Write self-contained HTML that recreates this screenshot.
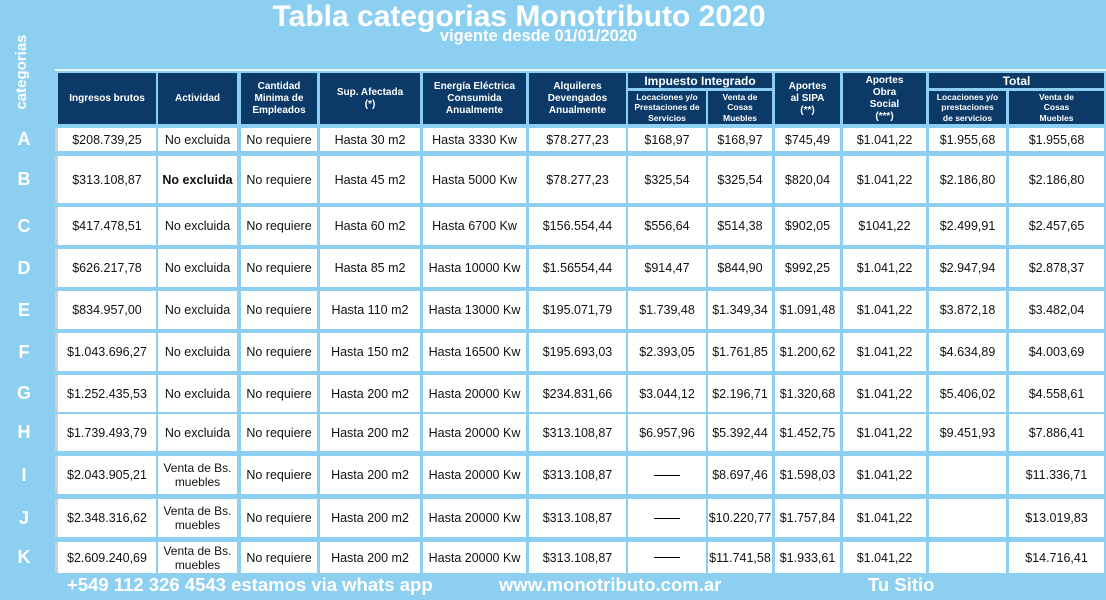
<!DOCTYPE html>
<html><head><meta charset="utf-8"><style>
body{margin:0;width:1106px;height:600px;background:#8ccff1;position:relative;overflow:hidden;font-family:"Liberation Sans",sans-serif}
.a{position:absolute;box-sizing:border-box}
.h{background:#0b3968;color:#fff;font-weight:bold;font-size:10px;line-height:12px;display:flex;align-items:center;justify-content:center;text-align:center}
.c{background:#fff;color:#111;font-size:12.5px;display:flex;align-items:center;justify-content:center;text-align:center;line-height:14px}
.l{color:#fff;font-weight:bold;font-size:18px;width:40px;text-align:center;left:4px}
.f{color:#fff;font-weight:bold;font-size:18.5px;top:574px}
</style></head><body>
<div class="a" style="left:0;width:1038px;top:0;text-align:center;color:#fff;font-weight:bold;font-size:30px;line-height:33px">Tabla categorias Monotributo 2020</div>
<div class="a" style="left:0;width:1077px;top:27px;text-align:center;color:#fff;font-weight:bold;font-size:16.5px;line-height:18px">vigente desde 01/01/2020</div>
<div class="a" style="top:52px;color:#fff;font-weight:bold;font-size:15px;transform:rotate(-90deg);transform-origin:center;text-align:center;white-space:nowrap;line-height:40px;height:40px;width:80px;left:-18px">categorias</div>
<div class="a" style="left:55px;top:69px;width:1051px;height:2px;background:#e8f6fd"></div>
<div id="t"></div>
<div class="a f" style="left:67px">+549 112 326 4543 estamos via whats app</div>
<div class="a f" style="left:499px">www.monotributo.com.ar</div>
<div class="a f" style="left:868px">Tu Sitio</div>
<script>
const cols=[[58,98],[158,79],[241,76],[320,100],[423,103],[529,97],[628,78],[708,64],[775,65],[843,83],[929,77],[1009,95]];
const rowsY=[[128,23],[156,47],[207,38],[249,38],[291,38],[333,38],[375,37],[414,37],[456,38],[499,38],[542,31]];
const letters=["A","B","C","D","E","F","G","H","I","J","K"];
const data=[
["$208.739,25","No excluida","No requiere","Hasta 30 m2","Hasta 3330 Kw","$78.277,23","$168,97","$168,97","$745,49","$1.041,22","$1.955,68","$1.955,68"],
["$313.108,87","<b>No excluida</b>","No requiere","Hasta 45 m2","Hasta 5000 Kw","$78.277,23","$325,54","$325,54","$820,04","$1.041,22","$2.186,80","$2.186,80"],
["$417.478,51","No excluida","No requiere","Hasta 60 m2","Hasta 6700 Kw","$156.554,44","$556,64","$514,38","$902,05","$1041,22","$2.499,91","$2.457,65"],
["$626.217,78","No excluida","No requiere","Hasta 85 m2","Hasta 10000 Kw","$1.56554,44","$914,47","$844,90","$992,25","$1.041,22","$2.947,94","$2.878,37"],
["$834.957,00","No excluida","No requiere","Hasta 110 m2","Hasta 13000 Kw","$195.071,79","$1.739,48","$1.349,34","$1.091,48","$1.041,22","$3.872,18","$3.482,04"],
["$1.043.696,27","No excluida","No requiere","Hasta 150 m2","Hasta 16500 Kw","$195.693,03","$2.393,05","$1.761,85","$1.200,62","$1.041,22","$4.634,89","$4.003,69"],
["$1.252.435,53","No excluida","No requiere","Hasta 200 m2","Hasta 20000 Kw","$234.831,66","$3.044,12","$2.196,71","$1.320,68","$1.041,22","$5.406,02","$4.558,61"],
["$1.739.493,79","No excluida","No requiere","Hasta 200 m2","Hasta 20000 Kw","$313.108,87","$6.957,96","$5.392,44","$1.452,75","$1.041,22","$9.451,93","$7.886,41"],
["$2.043.905,21","Venta de Bs.<br>muebles","No requiere","Hasta 200 m2","Hasta 20000 Kw","$313.108,87","DASH","$8.697,46","$1.598,03","$1.041,22","","$11.336,71"],
["$2.348.316,62","Venta de Bs.<br>muebles","No requiere","Hasta 200 m2","Hasta 20000 Kw","$313.108,87","DASH","$10.220,77","$1.757,84","$1.041,22","","$13.019,83"],
["$2.609.240,69","Venta de Bs.<br>muebles","No requiere","Hasta 200 m2","Hasta 20000 Kw","$313.108,87","DASH","$11.741,58","$1.933,61","$1.041,22","","$14.716,41"]];
const t=document.getElementById('t');
function mk(cls,x,y,w,h,html){const d=document.createElement('div');d.className='a '+cls;d.style.cssText=`left:${x}px;top:${y}px;width:${w}px;height:${h}px`;d.innerHTML=html;t.appendChild(d);return d;}
const heads=["Ingresos brutos","Actividad","Cantidad<br>Minima de<br>Empleados","Sup. Afectada<br>(*)","Energía Eléctrica<br>Consumida<br>Anualmente","Alquileres<br>Devengados<br>Anualmente",null,null,"Aportes<br>al SIPA<br>(**)","Aportes<br>Obra<br>Social<br>(***)",null,null];
heads.forEach((hd,i)=>{if(hd===null)return;const d=mk('h',cols[i][0],73,cols[i][1],51,hd);

});
[[6,7,"Impuesto Integrado","impuesto-integrado-header"],[10,11,"Total","total-header"]].forEach(g=>{
const x=cols[g[0]][0],w=cols[g[1]][0]+cols[g[1]][1]-x;const d=mk('h',x,73,w,15,g[2]);d.style.fontSize='12px';

});
const subs=[[6,"Locaciones y/o<br>Prestaciones de<br>Servicios"],[7,"Venta de<br>Cosas<br>Muebles"],[10,"Locaciones y/o<br>prestaciones<br>de servicios"],[11,"Venta de<br>Cosas<br>Muebles"]];
subs.forEach(s=>{const d=mk('h',cols[s[0]][0],91,cols[s[0]][1],33,s[1]);d.style.fontSize='8.5px';d.style.lineHeight='10.5px';

});
rowsY.forEach((r,ri)=>{
const g=mk('',55,r[0],3,r[1],'');g.style.background='#cfcfcf';


const L=mk('l',4,r[0],40,r[1],letters[ri]);L.style.lineHeight=r[1]+'px';L.style.width='40px';


cols.forEach((c,ci)=>{let v=data[ri][ci];if(v==='DASH')v='<span style="display:inline-block;width:26px;border-top:1.5px solid #000"></span>';
const d=mk('c',c[0],r[0],c[1],r[1],v);
if(ci==1&&v.indexOf('<br>')>0)d.style.fontSize='12px';

});});
</script>
</body></html>
